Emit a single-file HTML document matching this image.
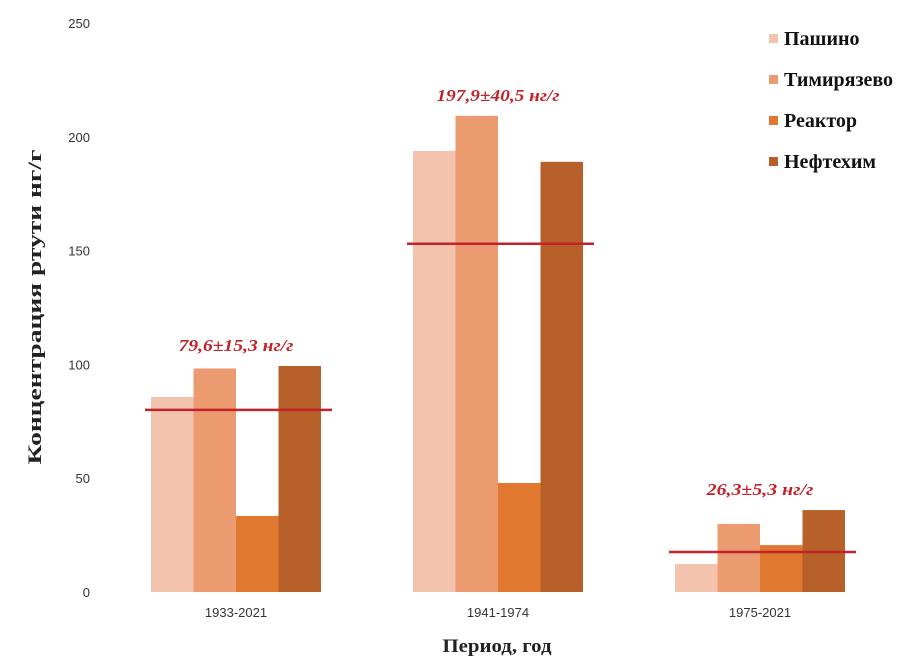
<!DOCTYPE html>
<html><head><meta charset="utf-8"><style>
body{margin:0;background:#fff}
svg{display:block}
</style></head><body>
<svg id="chart" width="918" height="668" xmlns="http://www.w3.org/2000/svg"></svg>
<script>
const categories = ["1933-2021","1941-1974","1975-2021"];
const seriesNames = ["Пашино","Тимирязево","Реактор","Нефтехим"];
const pashino = [85.7, 193.8, 12.3];
const timiryazevo = [98.2, 209.2, 29.9];
const reaktor = [33.4, 47.9, 20.6];
const neftekhim = [99.3, 189.0, 36.0];
const means = [80.0, 153.0, 17.6];
const meanLabels = ["79,6±15,3 нг/г","197,9±40,5 нг/г","26,3±5,3 нг/г"];
const yTicks = [0,50,100,150,200,250];
const colors = ["#f4c3ae","#ec9a6f","#e0782f","#b7602a"];

const svg = document.getElementById('chart');
const NS = 'http://www.w3.org/2000/svg';
const y0 = 592, pxPerUnit = 2.276;
const y = v => y0 - v * pxPerUnit;
const plotLeft = 105, bandW = 262;
const xCenter = i => plotLeft + bandW * (i + 0.5);
const barW = 42.5;
function mk(tag, attrs, text){
  const e = document.createElementNS(NS, tag);
  for (const k in attrs) e.setAttribute(k, attrs[k]);
  if (text !== undefined) e.textContent = text;
  svg.appendChild(e);
  return e;
}
const serif = '"Liberation Serif", serif';
const sans = '"Liberation Sans", sans-serif';

yTicks.forEach(t => {
  const e = mk('text', {x: 90, y: y(t) + 5, 'text-anchor': 'end', 'font-family': sans, 'font-size': 13, fill: '#333'}, String(t));
  
  
});

const series = [pashino, timiryazevo, reaktor, neftekhim];
categories.forEach((c, i) => {
  series.forEach((s, j) => {
    const x = xCenter(i) + (j - 2) * barW;
    const r = mk('rect', {x: x, y: y(s[i]), width: barW, height: y0 - y(s[i]), fill: colors[j]});
    
    
  });
  const l = mk('line', {x1: xCenter(i) - 91, x2: xCenter(i) + 96, y1: y(means[i]), y2: y(means[i]), stroke: '#c0232a', 'stroke-width': 2.5});
  
  
  const maxV = Math.max(pashino[i], timiryazevo[i], reaktor[i], neftekhim[i]);
  const ty = y(maxV) - 15;
  const a = mk('text', {x: xCenter(i), y: ty, 'text-anchor': 'middle', 'font-family': serif, 'font-size': 17, 'font-style': 'italic', 'font-weight': 'bold', fill: '#c0232a', textLength: meanLabels[i].length * 8.2, lengthAdjust: 'spacingAndGlyphs'}, meanLabels[i]);
  
  
  const xt = mk('text', {x: xCenter(i), y: 617, 'text-anchor': 'middle', 'font-family': sans, 'font-size': 13, fill: '#333'}, c);
  
  
});

seriesNames.forEach((n, j) => {
  const ly = 38 + j * 41;
  const r = mk('rect', {x: 769, y: ly - 4, width: 9, height: 9, fill: colors[j]});
  
  
  const t = mk('text', {x: 784, y: ly + 7, 'font-family': serif, 'font-size': 20, 'font-weight': 'bold', fill: '#111'}, n);
  
  
});

const xl = mk('text', {x: 497, y: 652, 'text-anchor': 'middle', 'font-family': serif, 'font-size': 19, 'font-weight': 'bold', fill: '#222', textLength: 109, lengthAdjust: 'spacingAndGlyphs'}, 'Период, год');


const yl = mk('text', {x: 0, y: 0, transform: 'translate(41,307) rotate(-90)', 'text-anchor': 'middle', 'font-family': serif, 'font-size': 19, 'font-weight': 'bold', fill: '#222', textLength: 315, lengthAdjust: 'spacingAndGlyphs'}, 'Концентрация ртути нг/г');


</script>
</body></html>
